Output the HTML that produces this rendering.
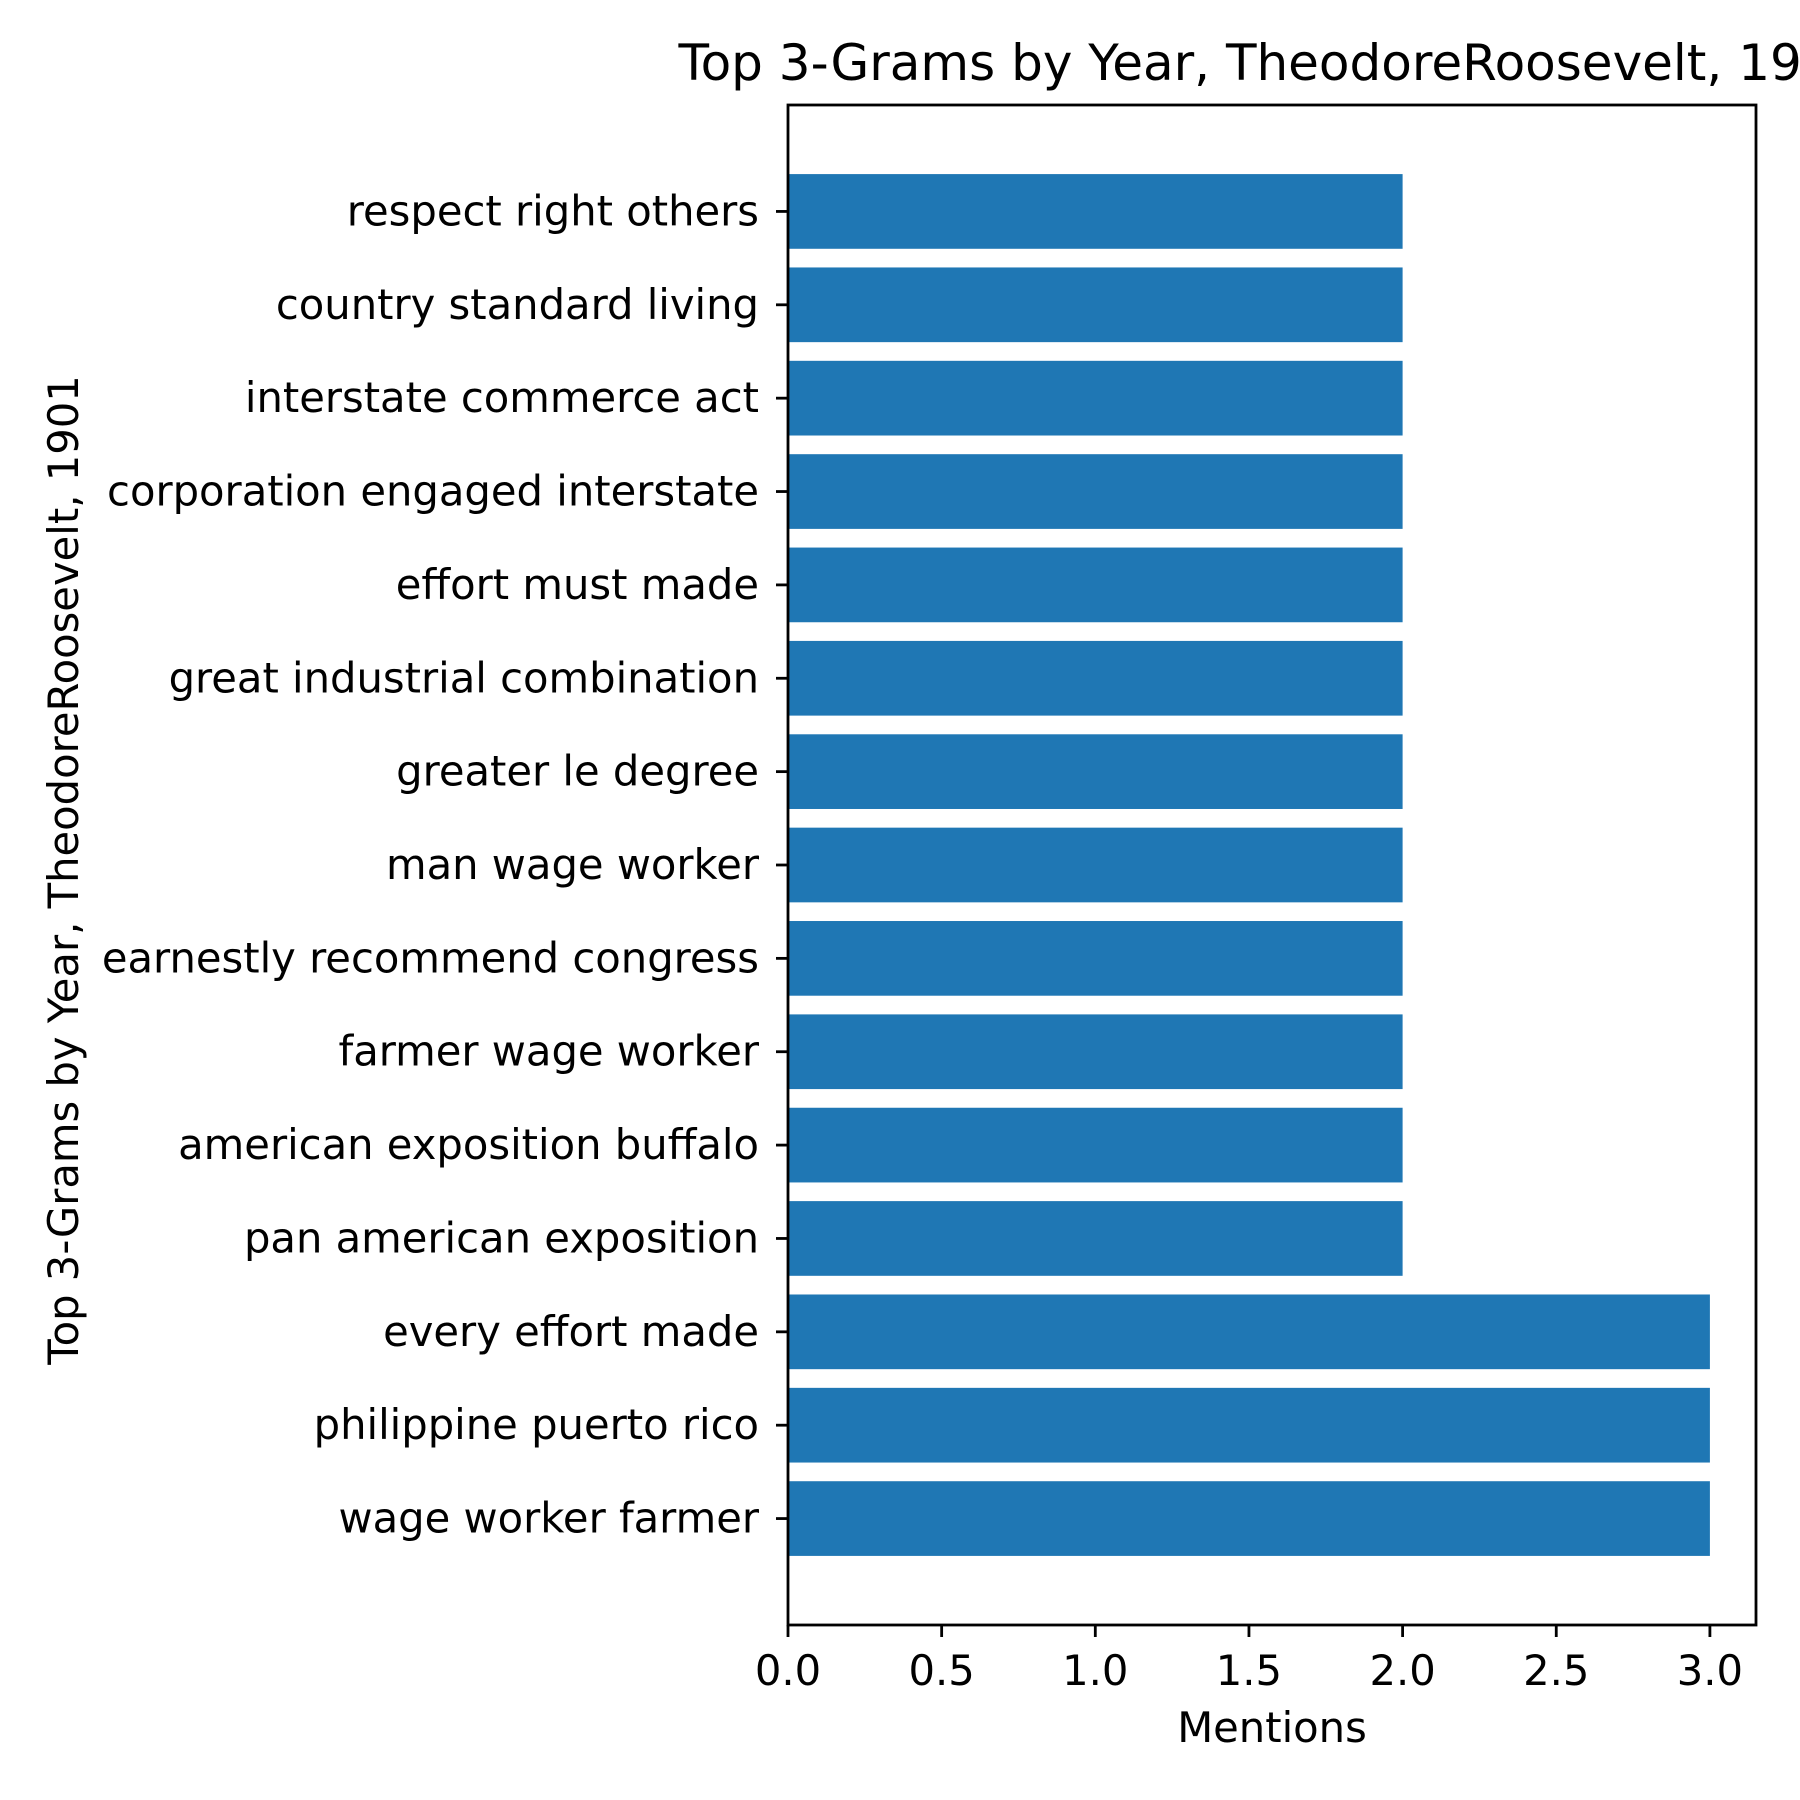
<!DOCTYPE html>
<html><head><meta charset="utf-8"><style>
html,body{margin:0;padding:0;background:#fff;}
svg{display:block;font-family:"DejaVu Sans","Liberation Sans",sans-serif;}
</style></head><body>
<svg id="chart" width="1800" height="1800" viewBox="0 0 1800 1800" xmlns="http://www.w3.org/2000/svg">
<rect width="1800" height="1800" fill="#fff"/>
<text x="1272" y="80" font-size="50" text-anchor="middle">Top 3-Grams by Year, TheodoreRoosevelt, 1901</text>
<g id="bars"></g>
<g id="yticks"></g>
<g id="xticks"></g>
<rect x="788" y="105" width="968" height="1520" fill="none" stroke="#000" stroke-width="2.8"/>
<text x="1272" y="1742" font-size="41.7" text-anchor="middle">Mentions</text>
<text transform="translate(78,870) rotate(-90)" font-size="41.7" text-anchor="middle">Top 3-Grams by Year, TheodoreRoosevelt, 1901</text>
</svg>
<script>
const categories = ["respect right others","country standard living","interstate commerce act","corporation engaged interstate","effort must made","great industrial combination","greater le degree","man wage worker","earnestly recommend congress","farmer wage worker","american exposition buffalo","pan american exposition","every effort made","philippine puerto rico","wage worker farmer"];
const mentions = [2,2,2,2,2,2,2,2,2,2,2,2,3,3,3];
const xTickValues = [0,0.5,1,1.5,2,2.5,3];
const xTickLabels = ["0.0","0.5","1.0","1.5","2.0","2.5","3.0"];

const NS="http://www.w3.org/2000/svg";
const L=788,R=1756,T=105,B=1625;
const n=categories.length;
const xMax=3.15;
function xs(v){return L+(v/xMax)*(R-L);}
const yMin=-0.4-0.74, yMax=(n-1)+0.4+0.74;
function ys(pos){return B-(pos-yMin)/(yMax-yMin)*(B-T);}
function mk(tag,attrs){const e=document.createElementNS(NS,tag);for(const k in attrs)e.setAttribute(k,attrs[k]);return e;}
const bars=document.getElementById('bars'),yt=document.getElementById('yticks'),xt=document.getElementById('xticks');
categories.forEach((c,i)=>{
  const pos=n-1-i;
  const y0=ys(pos+0.4),y1=ys(pos-0.4);
  const r=mk('rect',{x:xs(0),y:y0,width:xs(mentions[i])-xs(0),height:y1-y0,fill:'#1f77b4'});
  
  
  bars.appendChild(r);
  const yc=ys(pos);
  const tk=mk('line',{x1:L-12,x2:L,y1:yc,y2:yc,stroke:'#000','stroke-width':2.8});
  
  
  yt.appendChild(tk);
  const t=mk('text',{x:L-29,y:yc+14,'font-size':41.7,'text-anchor':'end'});
  
  
  t.textContent=c;yt.appendChild(t);
});
xTickValues.forEach((v,i)=>{
  const x=xs(v);
  const tk=mk('line',{x1:x,x2:x,y1:B,y2:B+12,stroke:'#000','stroke-width':2.8});
  
  
  xt.appendChild(tk);
  const t=mk('text',{x:x,y:1685,'font-size':41.7,'text-anchor':'middle'});
  
  
  t.textContent=xTickLabels[i];xt.appendChild(t);
});
</script>
</body></html>
